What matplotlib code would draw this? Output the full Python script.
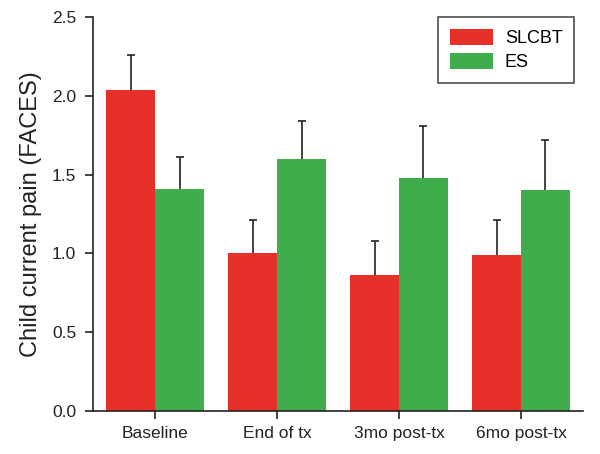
import numpy as np
import matplotlib
matplotlib.use("Agg")
import matplotlib.pyplot as plt

plt.rcParams['font.family'] = ['Liberation Sans', 'DejaVu Sans']

# data
timepoints = ["Baseline", "End of tx", "3mo post-tx", "6mo post-tx"]
slcbt_mean = [2.04, 1.00, 0.86, 0.99]
slcbt_err = [0.22, 0.21, 0.22, 0.22]
es_mean = [1.41, 1.60, 1.48, 1.40]
es_err = [0.20, 0.24, 0.33, 0.32]

red = '#E8302A'
green = '#3FAD4C'
ink = '#222222'

fig = plt.figure(figsize=(6, 4.54), dpi=100)
ax = fig.add_axes([0.155, 0.095, 0.817, 0.867])

x = np.arange(len(timepoints))
w = 0.4
ax.bar(x - w / 2, slcbt_mean, w, color=red, label='SLCBT', zorder=2)
ax.bar(x + w / 2, es_mean, w, color=green, label='ES', zorder=2)

# upper error bars only - the lower half is hidden behind the bars
lo = np.full(4, 0.1)
ax.errorbar(x - w / 2, slcbt_mean, yerr=[lo, slcbt_err], fmt='none',
            ecolor=ink, elinewidth=1.2, capsize=3, capthick=1.2, zorder=1)
ax.errorbar(x + w / 2, es_mean, yerr=[lo, es_err], fmt='none',
            ecolor=ink, elinewidth=1.2, capsize=3, capthick=1.2, zorder=1)

ax.set_xlim(-0.51, 3.51)
ax.set_ylim(0, 2.5)
ax.set_yticks([0.0, 0.5, 1.0, 1.5, 2.0, 2.5])
ax.set_yticklabels(['0.0', '0.5', '1.0', '1.5', '2.0', '2.5'])
ax.set_xticks(x)
ax.set_xticklabels(timepoints)
ax.tick_params(axis='both', labelsize=12.5, direction='out', length=6, width=1.2,
               color=ink, labelcolor=ink)
ax.tick_params(axis='y', pad=6)
ax.tick_params(axis='x', pad=5)

for s in ['top', 'right']:
    ax.spines[s].set_visible(False)
for s in ['left', 'bottom']:
    ax.spines[s].set_linewidth(1.2)
    ax.spines[s].set_color(ink)

ax.set_ylabel('Child current pain (FACES)', fontsize=17, color=ink, labelpad=7)

leg = ax.legend(loc='upper right', bbox_to_anchor=(0.957, 0.963),
                bbox_transform=fig.transFigure, borderaxespad=0, fontsize=13,
                frameon=True, fancybox=False, edgecolor=ink,
                handlelength=2.4, handleheight=1.0, handletextpad=0.65,
                borderpad=0.65, labelspacing=0.35)
leg.get_frame().set_linewidth(1.2)

fig.savefig('out.png', dpi=100)
